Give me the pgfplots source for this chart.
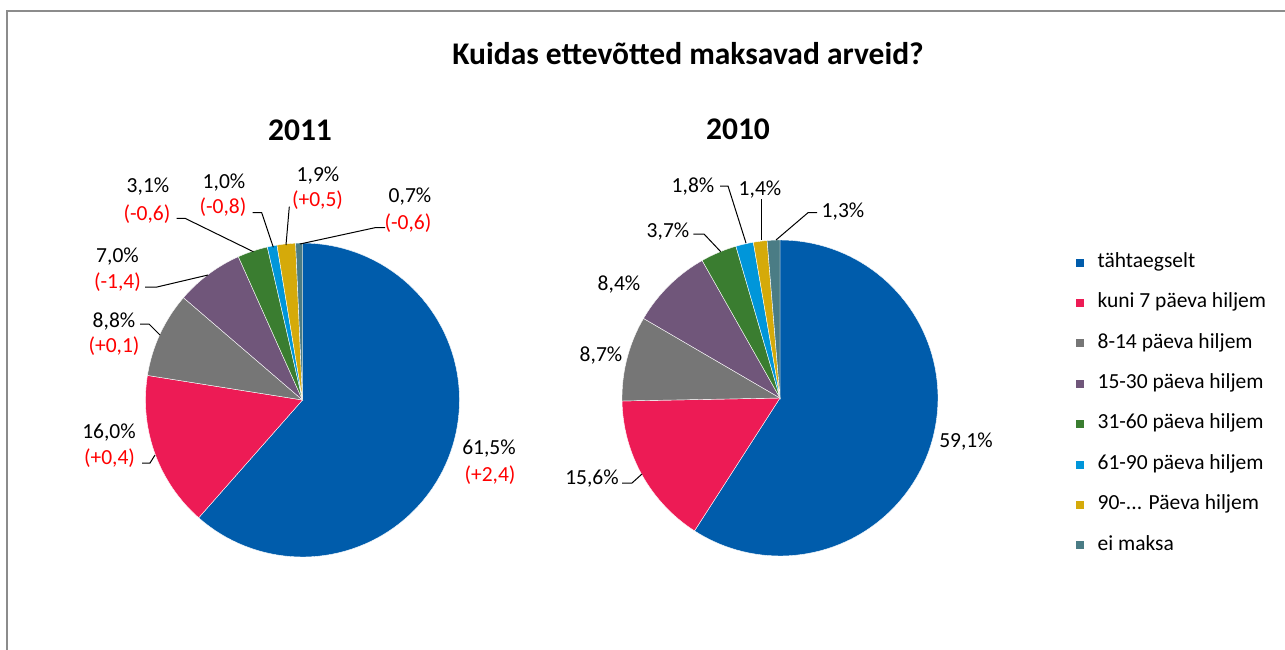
\documentclass[border=0pt]{standalone}
\usepackage{fontspec}
\setmainfont{Carlito}
\usepackage{pgfplots}
\pgfplotsset{compat=1.18}
\definecolor{cBlue}{RGB}{0,92,171}
\definecolor{cRed}{RGB}{237,27,85}
\definecolor{cGray}{RGB}{118,118,118}
\definecolor{cPurple}{RGB}{112,86,122}
\definecolor{cGreen}{RGB}{58,125,48}
\definecolor{cCyan}{RGB}{0,150,218}
\definecolor{cGold}{RGB}{213,170,10}
\definecolor{cTeal}{RGB}{74,124,133}
\definecolor{cFrame}{RGB}{140,140,140}
\newcommand\lab{\fontsize{21.5}{25}\selectfont}
\newcommand\ttl{\fontsize{31.5}{37}\selectfont\bfseries}
% #1 cx, #2 cy, #3 radius, #4 list value/colour (clockwise from 12 o'clock)
\newcommand\pie[4]{%
  \gdef\cum{0}%
  \foreach \v/\col in {#4} {%
    \pgfmathsetmacro\astart{90-3.6*\cum}%
    \pgfmathsetmacro\aend{90-3.6*(\cum+\v)}%
    \pgfmathsetmacro\newcum{\cum+\v}%
    \xdef\cum{\newcum}%
    \edef\tmp{\noexpand\addplot[fill=\col, draw=white, line width=0.4pt, domain=\aend:\astart, samples=90, forget plot] ({#1+#3*cos(x)},{#2-#3*sin(x)}) -- (axis cs:#1,#2) -- cycle;}%
    \tmp
  }%
}
\begin{document}
\begin{tikzpicture}
\begin{axis}[
  x=1pt, y=1pt, xmin=0, xmax=1285, ymin=0, ymax=650, y dir=reverse,
  enlargelimits=false, hide axis, clip=false,
  legend image code/.code={\fill[#1] (0pt,-3.5pt) rectangle (7pt,3.5pt);},
  legend cell align=left,
  legend style={at={(axis cs:1075.5,252)}, anchor=north west, draw=none, fill=none,
    inner sep=0pt, font=\lab, row sep=20.4pt, column sep=14.5pt,
    nodes={inner sep=0pt, text height=15pt, text depth=5pt}},
]
% 2011
\pie{302.5}{400}{157}{61.5/cBlue,16.0/cRed,8.8/cGray,7.0/cPurple,3.1/cGreen,1.0/cCyan,1.9/cGold,0.7/cTeal}
% 2010
\pie{780}{398}{158}{59.1/cBlue,15.6/cRed,8.7/cGray,8.4/cPurple,3.7/cGreen,1.8/cCyan,1.4/cGold,1.3/cTeal}

\addlegendimage{cBlue}\addlegendentry{tähtaegselt}
\addlegendimage{cRed}\addlegendentry{kuni 7 päeva hiljem}
\addlegendimage{cGray}\addlegendentry{8-14 päeva hiljem}
\addlegendimage{cPurple}\addlegendentry{15-30 päeva hiljem}
\addlegendimage{cGreen}\addlegendentry{31-60 päeva hiljem}
\addlegendimage{cCyan}\addlegendentry{61-90 päeva hiljem}
\addlegendimage{cGold}\addlegendentry{90-... Päeva hiljem}
\addlegendimage{cTeal}\addlegendentry{ei maksa}

% frame
\draw[cFrame, line width=2pt] (axis cs:6.5,650) |- (axis cs:1285,11);
% titles
\node[anchor=base, font=\ttl] at (axis cs:688,64.5) {Kuidas ettevõtted maksavad arveid?};
\node[anchor=base, font=\ttl] at (axis cs:300,141) {2011};
\node[anchor=base, font=\ttl] at (axis cs:738,140) {2010};

% leader lines
\begin{scope}[black, line width=1pt]
\draw (axis cs:142,463) -- (axis cs:150,463) -- (axis cs:155,455);
\draw (axis cs:140,324) -- (axis cs:149,324) -- (axis cs:160,335);
\draw (axis cs:145,287) -- (axis cs:157,287) -- (axis cs:208,275);
\draw (axis cs:176.7,218.3) -- (axis cs:185,218.3) -- (axis cs:253.3,251.7);
\draw (axis cs:252.7,212.7) -- (axis cs:261.7,212.7) -- (axis cs:273.3,247.3);
\draw (axis cs:289.3,206.7) -- (axis cs:286,245);
\draw (axis cs:385,227.7) -- (axis cs:375,227.7) -- (axis cs:300,244);
\draw (axis cs:622,483) -- (axis cs:632,483) -- (axis cs:642,474);
\draw (axis cs:693.3,234) -- (axis cs:704,234) -- (axis cs:720.7,251.7);
\draw (axis cs:720,186) -- (axis cs:728,186) -- (axis cs:746,243);
\draw (axis cs:761.7,199) -- (axis cs:761.7,240);
\draw (axis cs:817,212.7) -- (axis cs:808,212.7) -- (axis cs:776,240);
\end{scope}

% 2011 labels
\begin{scope}[every node/.style={anchor=base, font=\lab, inner sep=0pt}]
\node at (axis cs:489,454) {61,5\%};
\node[text=red] at (axis cs:490,481) {(+2,4)};
\node at (axis cs:109,438) {16,0\%};
\node[text=red] at (axis cs:109.5,464) {(+0,4)};
\node at (axis cs:114,327) {8,8\%};
\node[text=red] at (axis cs:114,352) {(+0,1)};
\node at (axis cs:117.5,262) {7,0\%};
\node[text=red] at (axis cs:117.5,288) {(-1,4)};
\node at (axis cs:148,193) {3,1\%};
\node[text=red] at (axis cs:147,220) {(-0,6)};
\node at (axis cs:224,188) {1,0\%};
\node[text=red] at (axis cs:223,213) {(-0,8)};
\node at (axis cs:318,181) {1,9\%};
\node[text=red] at (axis cs:317.5,206) {(+0,5)};
\node at (axis cs:410,202) {0,7\%};
\node[text=red] at (axis cs:408,229) {(-0,6)};
% 2010 labels
\node at (axis cs:966,447) {59,1\%};
\node at (axis cs:592,484) {15,6\%};
\node at (axis cs:601,361) {8,7\%};
\node at (axis cs:619,290) {8,4\%};
\node at (axis cs:668,237) {3,7\%};
\node at (axis cs:693,192) {1,8\%};
\node at (axis cs:760,195) {1,4\%};
\node at (axis cs:843,217) {1,3\%};
\end{scope}
\end{axis}
\pgfresetboundingbox
\path (current axis.south west) rectangle (current axis.north east);
\end{tikzpicture}
\end{document}
